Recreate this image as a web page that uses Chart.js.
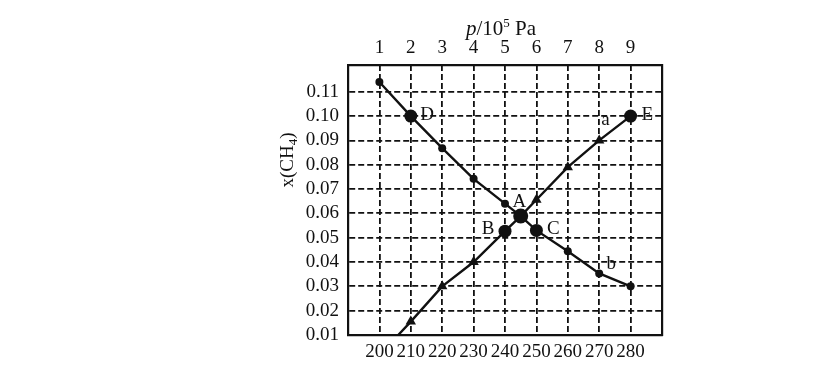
<!DOCTYPE html>
<html lang="zh-CN">
<head>
<meta charset="utf-8">
<title>x(CH4) - T / p</title>
<script src="https://cdn.jsdelivr.net/npm/chart.js@4.4.0/dist/chart.umd.min.js"></script>
<style>
  html, body { margin: 0; padding: 0; background: #fff; }
  #wrap { position: relative; width: 814px; height: 365px; }
</style>
</head>
<body>
<div id="wrap"><canvas id="chart"></canvas></div>
<script>
// bottom axis (temperature) and top axis (pressure, 10^5 Pa)
const temps = [200, 210, 220, 230, 240, 250, 260, 270, 280];
const pressures = ['1', '2', '3', '4', '5', '6', '7', '8', '9'];
const yTicks = [0.01, 0.02, 0.03, 0.04, 0.05, 0.06, 0.07, 0.08, 0.09, 0.10, 0.11];

// falling curve (circles): D at 210, A at 245, C at 250
const downX = [200, 210, 220, 230, 240, 245, 250, 260, 270, 280];
const downY = [0.114, 0.100, 0.0868, 0.0742, 0.064, 0.0589, 0.053, 0.0444, 0.0353, 0.030];
// rising curve (triangles): B at 240, E at 280
const upX = [206, 210, 220, 230, 240, 245, 250, 260, 270, 280];
const upY = [0.010, 0.0155, 0.030, 0.040, 0.0527, 0.0589, 0.0656, 0.079, 0.090, 0.100];

// point names, placed in data units
const names = [
  { text: 'D', x: 215.2, y: 0.1003 },
  { text: 'E', x: 285.3, y: 0.1003 },
  { text: 'A', x: 244.6, y: 0.0645 },
  { text: 'B', x: 234.6, y: 0.0535 },
  { text: 'C', x: 255.4, y: 0.0535 },
  { text: 'a', x: 272.0, y: 0.0985 },
  { text: 'b', x: 273.8, y: 0.0392 }
];

const SERIF = "'Liberation Serif', 'DejaVu Serif', serif";
const INK = '#111';

const bigDown = [1, 5, 6];
const bigUp = [4, 9];
const noUp = [0, 5];

const toPts = (xs, ys) => xs.map((x, i) => ({ x: x, y: ys[i] }));

const textPlugin = {
  id: 'textPlugin',
  afterDraw(chart) {
    const ctx = chart.ctx;
    const xs = chart.scales.x, ys = chart.scales.y;
    ctx.save();
    ctx.fillStyle = INK;
    ctx.textAlign = 'center';
    ctx.textBaseline = 'middle';
    ctx.font = '19px ' + SERIF;
    names.forEach(n => {
      ctx.fillText(n.text, xs.getPixelForValue(n.x), ys.getPixelForValue(n.y));
    });

    // top title: p/10^5 Pa
    const parts = [
      { t: 'p', f: 'italic 21px ' + SERIF, dy: 0 },
      { t: '/10', f: '21px ' + SERIF, dy: 0 },
      { t: '5', f: '13px ' + SERIF, dy: -8 },
      { t: ' Pa', f: '21px ' + SERIF, dy: 0 }
    ];
    let w = 0;
    parts.forEach(p => { ctx.font = p.f; w += ctx.measureText(p.t).width; });
    let px = (xs.left + xs.right) / 2 - 4 - w / 2;
    ctx.textAlign = 'left';
    ctx.textBaseline = 'alphabetic';
    parts.forEach(p => {
      ctx.font = p.f;
      ctx.fillText(p.t, px, 35 + p.dy);
      px += ctx.measureText(p.t).width;
    });

    // y title: x(CH4)
    ctx.translate(293, 160);
    ctx.rotate(-Math.PI / 2);
    const yp = [
      { t: 'x(CH', f: '19px ' + SERIF, dy: 0 },
      { t: '4', f: '13px ' + SERIF, dy: 4 },
      { t: ')', f: '19px ' + SERIF, dy: 0 }
    ];
    w = 0;
    yp.forEach(p => { ctx.font = p.f; w += ctx.measureText(p.t).width; });
    px = -w / 2;
    yp.forEach(p => {
      ctx.font = p.f;
      ctx.fillText(p.t, px, 0 + p.dy);
      px += ctx.measureText(p.t).width;
    });
    ctx.restore();
  }
};

const gridOpts = {
  color: INK,
  lineWidth: 1.8,
  drawTicks: false
};

new Chart(document.getElementById('chart'), {
  type: 'line',
  data: {
    datasets: [
      {
        data: toPts(downX, downY),
        borderColor: INK,
        backgroundColor: INK,
        borderWidth: 2.4,
        pointStyle: 'circle',
        pointRadius: ctx => bigDown.includes(ctx.dataIndex) ? (ctx.dataIndex === 5 ? 7.5 : 6.5) : 4,
        pointBorderWidth: 0
      },
      {
        data: toPts(upX, upY),
        borderColor: INK,
        backgroundColor: INK,
        borderWidth: 2.4,
        pointStyle: ctx => bigUp.includes(ctx.dataIndex) ? 'circle' : 'triangle',
        pointRadius: ctx => noUp.includes(ctx.dataIndex) ? 0 : (bigUp.includes(ctx.dataIndex) ? 6.5 : 6),
        pointBorderWidth: 0
      }
    ]
  },
  options: {
    responsive: true,
    maintainAspectRatio: false,
    animation: false,
    layout: { padding: { left: 0, right: 152, top: 0, bottom: 0 } },
    plugins: { legend: { display: false }, tooltip: { enabled: false } },
    elements: { line: { tension: 0 } },
    scales: {
      x: {
        type: 'linear',
        position: 'bottom',
        min: 190,
        max: 290,
        afterBuildTicks: axis => { axis.ticks = temps.map(v => ({ value: v })); },
        afterFit: axis => { axis.height = 30; },
        grid: gridOpts,
        border: { display: true, color: INK, width: 2.2, dash: [6, 3] },
        ticks: {
          autoSkip: false,
          maxRotation: 0,
          padding: 6,
          color: INK,
          font: { family: SERIF, size: 19 },
          callback: v => String(v)
        }
      },
      x2: {
        type: 'linear',
        position: 'top',
        min: 190,
        max: 290,
        afterBuildTicks: axis => { axis.ticks = temps.map(v => ({ value: v })); },
        afterFit: axis => { axis.height = 65; },
        grid: { drawOnChartArea: false, drawTicks: false },
        border: { display: true, color: INK, width: 2.2 },
        ticks: {
          autoSkip: false,
          maxRotation: 0,
          padding: 6,
          color: INK,
          font: { family: SERIF, size: 19 },
          callback: v => pressures[temps.indexOf(v)]
        }
      },
      y: {
        type: 'linear',
        min: 0.01,
        max: 0.121,
        afterBuildTicks: axis => { axis.ticks = yTicks.map(v => ({ value: v })); },
        afterFit: axis => { axis.width = 348; },
        grid: gridOpts,
        border: { display: true, color: INK, width: 2.2, dash: [6, 3] },
        ticks: {
          padding: 9,
          color: INK,
          font: { family: SERIF, size: 19 },
          callback: v => v.toFixed(2)
        }
      },
      y2: {
        type: 'linear',
        position: 'right',
        min: 0.01,
        max: 0.121,
        afterFit: axis => { axis.width = 0; },
        grid: { drawOnChartArea: false, drawTicks: false },
        border: { display: true, color: INK, width: 2.2 },
        ticks: { display: false }
      }
    }
  },
  plugins: [textPlugin]
});
</script>
</body>
</html>
